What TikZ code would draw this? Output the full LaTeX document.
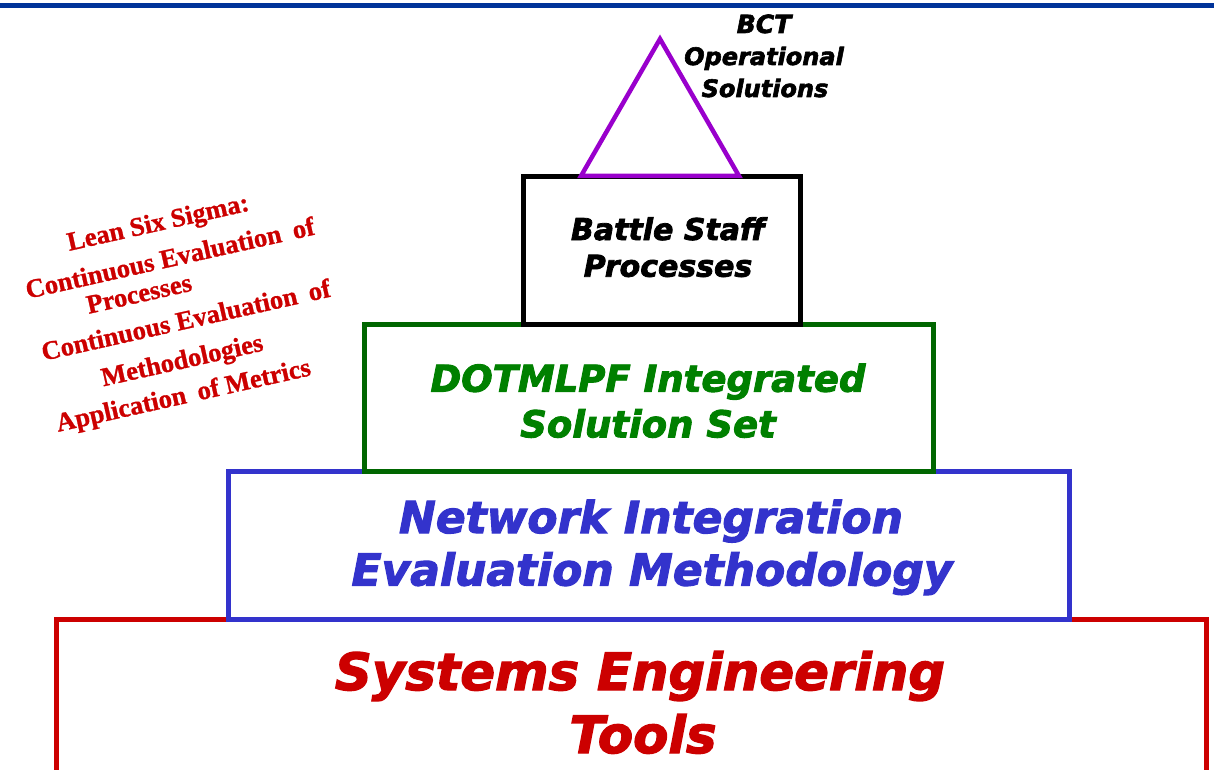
\documentclass[tikz,border=0pt]{standalone}
\usepackage{fontspec}
\newfontfamily\tierfont{DejaVu Sans}[BoldItalicFeatures={FakeBold=2.5}]
\newfontfamily\notefont{Liberation Serif}[BoldFeatures={FakeBold=1}]
\definecolor{barblue}{HTML}{003399}
\definecolor{sered}{HTML}{CC0000}
\definecolor{neblue}{HTML}{3333CC}
\definecolor{dogreen}{HTML}{006600}
\definecolor{dotext}{HTML}{008000}
\definecolor{bctpurple}{HTML}{9900CC}
\begin{document}
\begin{tikzpicture}[x=1pt,y=-1pt,
  frame/.style={line width=5pt},
  tier/.style={font=\tierfont\bfseries\itshape\fontsize{#1}{#1}\selectfont,
    anchor=base, inner sep=0pt},
  note/.style={font=\notefont\bfseries\fontsize{26.5}{35}\selectfont,
    text=sered, rotate=12.6, inner sep=0pt, align=center}]
\useasboundingbox (0,0) rectangle (1214,770);

% header rule
\draw[line width=5.5pt, barblue] (0,5.5) -- (1214,5.5);

% pyramid tiers, drawn bottom-up so each one sits on the one below
\draw[frame, sered]  (56.5,619.5) rectangle (1206.5,800);
\draw[frame, neblue] (228,471.5) rectangle (1069.5,619.5);
\draw[frame, dogreen] (364,324) rectangle (933,471.5);
\draw[frame, black]  (523.5,176.5) rectangle (800,324);
\draw[line width=4.5pt, bctpurple, line join=miter]
  (660,39) -- (739,176) -- (581,176) -- cycle;

% tier labels
\node[tier=25] (bct1) at (764,33) {BCT};
\node[tier=24] (bct2) at (764,65) {Operational};
\node[tier=24] (bct3) at (765,97) {Solutions};

\node[tier=30] (bsp1) at (668,240) {Battle Staff};
\node[tier=30] (bsp2) at (668,276.7) {Processes};

\node[tier=37, text=dotext] (dot1) at (648,391.7) {DOTMLPF Integrated};
\node[tier=37, text=dotext] (dot2) at (648,437.3) {Solution Set};

\node[tier=44, text=neblue] (nie1) at (651,533) {Network Integration};
\node[tier=44, text=neblue] (nie2) at (652,585.5) {Evaluation Methodology};

\node[tier=51.3, text=sered] (set1) at (640,690) {Systems Engineering};
\node[tier=51.3, text=sered] (set2) at (643,753) {Tools};

% slanted note on the left: struts fix the height of the first and the
% depth of the last line, so the centre of the block is known
\node[note] (lss) at (181.4,308.9)
  {\rule{0pt}{20pt}Lean Six Sigma:\hspace{8pt}\null\\[2.7pt]
   Continuous Evaluation\hspace{0.45em}of\\[-7pt]
   Processes\hspace{76pt}\null\\[1pt]
   \null\hspace{4pt}Continuous Evaluation\hspace{0.45em}of\\[3pt]
   Methodologies\hspace{21pt}\null\\[-0.5pt]
   \rule[-8pt]{0pt}{8pt}Application\hspace{0.45em}of Metrics\hspace{34pt}\null};
\end{tikzpicture}
\end{document}
